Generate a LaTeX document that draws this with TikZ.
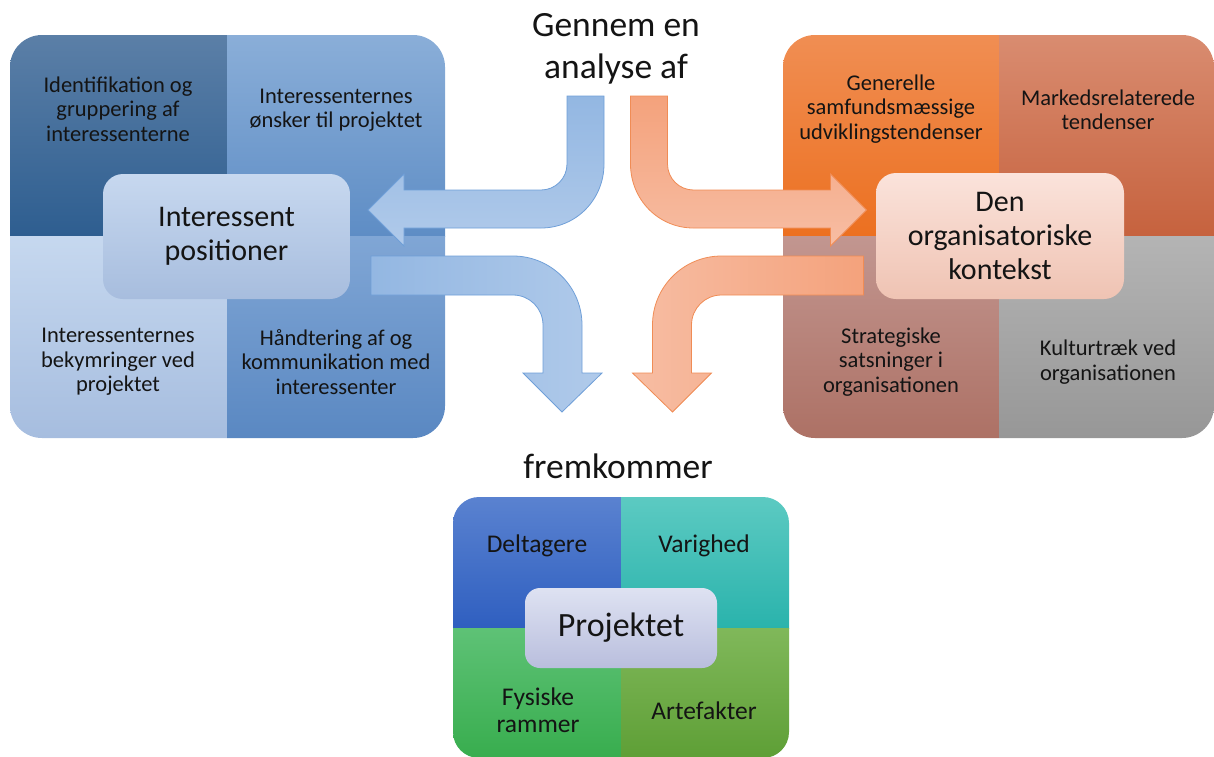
\documentclass[tikz,border=0pt]{standalone}
\usepackage{fontspec}
\setmainfont{Carlito}
\definecolor{txt}{HTML}{141414}
% left block
\definecolor{lA1}{HTML}{5B7FA7}\definecolor{lA2}{HTML}{2E5E90}
\definecolor{lB1}{HTML}{8AAED8}\definecolor{lB2}{HTML}{5E8DC5}
\definecolor{lC1}{HTML}{C6D8EF}\definecolor{lC2}{HTML}{A6BDDF}
\definecolor{lD1}{HTML}{80A6D5}\definecolor{lD2}{HTML}{5A88C2}
\definecolor{lM1}{HTML}{C7D8EF}\definecolor{lM2}{HTML}{A7BDDE}
% right block
\definecolor{rA1}{HTML}{F08E53}\definecolor{rA2}{HTML}{EC7020}
\definecolor{rB1}{HTML}{D98C70}\definecolor{rB2}{HTML}{C6623E}
\definecolor{rC1}{HTML}{C29690}\definecolor{rC2}{HTML}{AD7165}
\definecolor{rD1}{HTML}{B4B4B4}\definecolor{rD2}{HTML}{979797}
\definecolor{rM1}{HTML}{FBE3DB}\definecolor{rM2}{HTML}{EFC3B3}
% bottom block
\definecolor{bA1}{HTML}{5A82D0}\definecolor{bA2}{HTML}{2F5FC0}
\definecolor{bB1}{HTML}{5CCAC2}\definecolor{bB2}{HTML}{2AB3AC}
\definecolor{bC1}{HTML}{5EC276}\definecolor{bC2}{HTML}{38AD4E}
\definecolor{bD1}{HTML}{80B85A}\definecolor{bD2}{HTML}{5E9F36}
\definecolor{bM1}{HTML}{DEE2F2}\definecolor{bM2}{HTML}{B9BEDD}
% arrows
\definecolor{blA}{HTML}{93B7E2}\definecolor{blB}{HTML}{B0CAEA}\definecolor{blE}{HTML}{6F9FD8}
\definecolor{orA}{HTML}{F4A27C}\definecolor{orB}{HTML}{F7BDA3}\definecolor{orE}{HTML}{F08C55}
\tikzset{
  quadtext/.style={align=center, text=txt, font=\fontsize{22.5}{24.5}\selectfont},
  projtext/.style={align=center, text=txt, font=\fontsize{25.5}{27}\selectfont},
  hubbox/.style={rounded corners=20pt, align=center, text=txt, inner sep=0pt,
                 font=\fontsize{30}{34}\selectfont},
  titletext/.style={align=center, text=txt, font=\fontsize{35.5}{42}\selectfont},
  bluearrow/.style={draw=blE, line width=0.8pt},
  orangearrow/.style={draw=orE, line width=0.8pt},
}
\begin{document}
\begin{tikzpicture}[x=1pt,y=-1pt]
\useasboundingbox (0,0) rectangle (1214,756);
\clip (0,0) rectangle (1214,756);

% ---- left block ----
\begin{scope}
\clip[rounded corners=32pt] (10,35) rectangle (445,438);
\shade[top color=lA1, bottom color=lA2] (10,35) rectangle (227,236);
\shade[top color=lB1, bottom color=lB2] (227,35) rectangle (445,236);
\shade[top color=lC1, bottom color=lC2] (10,236) rectangle (227,438);
\shade[top color=lD1, bottom color=lD2] (227,236) rectangle (445,438);
\end{scope}
\node[quadtext] (l1) at (118,109) {Identifikation og\\gruppering af\\interessenterne};
\node[quadtext] (l2) at (336,110) {Interessenternes\\ønsker til projektet};
\node[quadtext] (l3) at (118,362) {Interessenternes\\bekymringer ved\\projektet};
\node[quadtext] (l4) at (336,362) {Håndtering af og\\kommunikation med\\interessenter};
\node[hubbox, top color=lM1, bottom color=lM2, minimum width=247pt, minimum height=125pt]
  (lhub) at (226.5,236.5) {Interessent\\positioner};

% ---- right block ----
\begin{scope}
\clip[rounded corners=32pt] (783,35) rectangle (1214,438);
\shade[top color=rA1, bottom color=rA2] (783,35) rectangle (999,236);
\shade[top color=rB1, bottom color=rB2] (999,35) rectangle (1214,236);
\shade[top color=rC1, bottom color=rC2] (783,236) rectangle (999,438);
\shade[top color=rD1, bottom color=rD2] (999,236) rectangle (1214,438);
\end{scope}
\node[quadtext] (r1) at (891,109) {Generelle\\samfundsmæssige\\udviklingstendenser};
\node[quadtext] (r2) at (1108,110) {Markedsrelaterede\\tendenser};
\node[quadtext] (r3) at (891,362) {Strategiske\\satsninger i\\organisationen};
\node[quadtext] (r4) at (1108,362) {Kulturtræk ved\\organisationen};
\node[hubbox, top color=rM1, bottom color=rM2, minimum width=248pt, minimum height=126pt]
  (rhub) at (1000,236) {Den\\organisatoriske\\kontekst};

% ---- bottom block ----
\begin{scope}
\clip[rounded corners=26pt] (453,497) rectangle (789,758);
\shade[top color=bA1, bottom color=bA2] (453,497) rectangle (621,628);
\shade[top color=bB1, bottom color=bB2] (621,497) rectangle (789,628);
\shade[top color=bC1, bottom color=bC2] (453,628) rectangle (621,758);
\shade[top color=bD1, bottom color=bD2] (621,628) rectangle (789,758);
\end{scope}
\node[projtext] (b1) at (537,546) {Deltagere};
\node[projtext] (b2) at (704,546) {Varighed};
\node[projtext] (b3) at (538,710) {Fysiske\\rammer};
\node[projtext] (b4) at (704,711) {Artefakter};
\node[hubbox, rounded corners=15pt, top color=bM1, bottom color=bM2,
      minimum width=192pt, minimum height=80pt, font=\fontsize{34}{40}\selectfont]
  (bhub) at (621,628) {Projektet};

% ---- headings ----
\node[titletext] (t1) at (616,49) {Gennem en\\analyse af};
\node[titletext] (t2) at (618,466) {fremkommer};

% ---- bent arrows ----
% blue: down, then left to the stakeholder hub
\path[bluearrow, top color=blA, bottom color=blB]
  (567,96) -- (604,96) -- (604,164)
  .. controls (604,199.3) and (576.3,228) .. (541,228)
  -- (404,228) -- (404,246) -- (368,210) -- (404,174) -- (404,190) -- (541,190)
  .. controls (555.4,190) and (567,178.4) .. (567,164) -- cycle;
% blue: right, then down to the project
\path[bluearrow, left color=blA, right color=blB]
  (371,256) -- (513,256)
  .. controls (551.1,256) and (582,286.9) .. (582,325)
  -- (582,373) -- (602,373) -- (562,412) -- (523,373) -- (543,373) -- (543,325)
  .. controls (543,308.4) and (529.6,295) .. (513,295)
  -- (371,295) -- cycle;
% orange: down, then right to the context hub
\path[orangearrow, top color=orA, bottom color=orB]
  (667.5,96) -- (630.5,96) -- (630.5,164)
  .. controls (630.5,199.3) and (658.2,228) .. (693.5,228)
  -- (830.5,228) -- (830.5,246) -- (866.5,210) -- (830.5,174) -- (830.5,190) -- (693.5,190)
  .. controls (679.1,190) and (667.5,178.4) .. (667.5,164) -- cycle;
% orange: left, then down to the project
\path[orangearrow, left color=orB, right color=orA]
  (863.5,256) -- (721.5,256)
  .. controls (683.4,256) and (652.5,286.9) .. (652.5,325)
  -- (652.5,373) -- (632.5,373) -- (672.5,412) -- (711.5,373) -- (691.5,373) -- (691.5,325)
  .. controls (691.5,308.4) and (704.9,295) .. (721.5,295)
  -- (863.5,295) -- cycle;
\end{tikzpicture}
\end{document}
